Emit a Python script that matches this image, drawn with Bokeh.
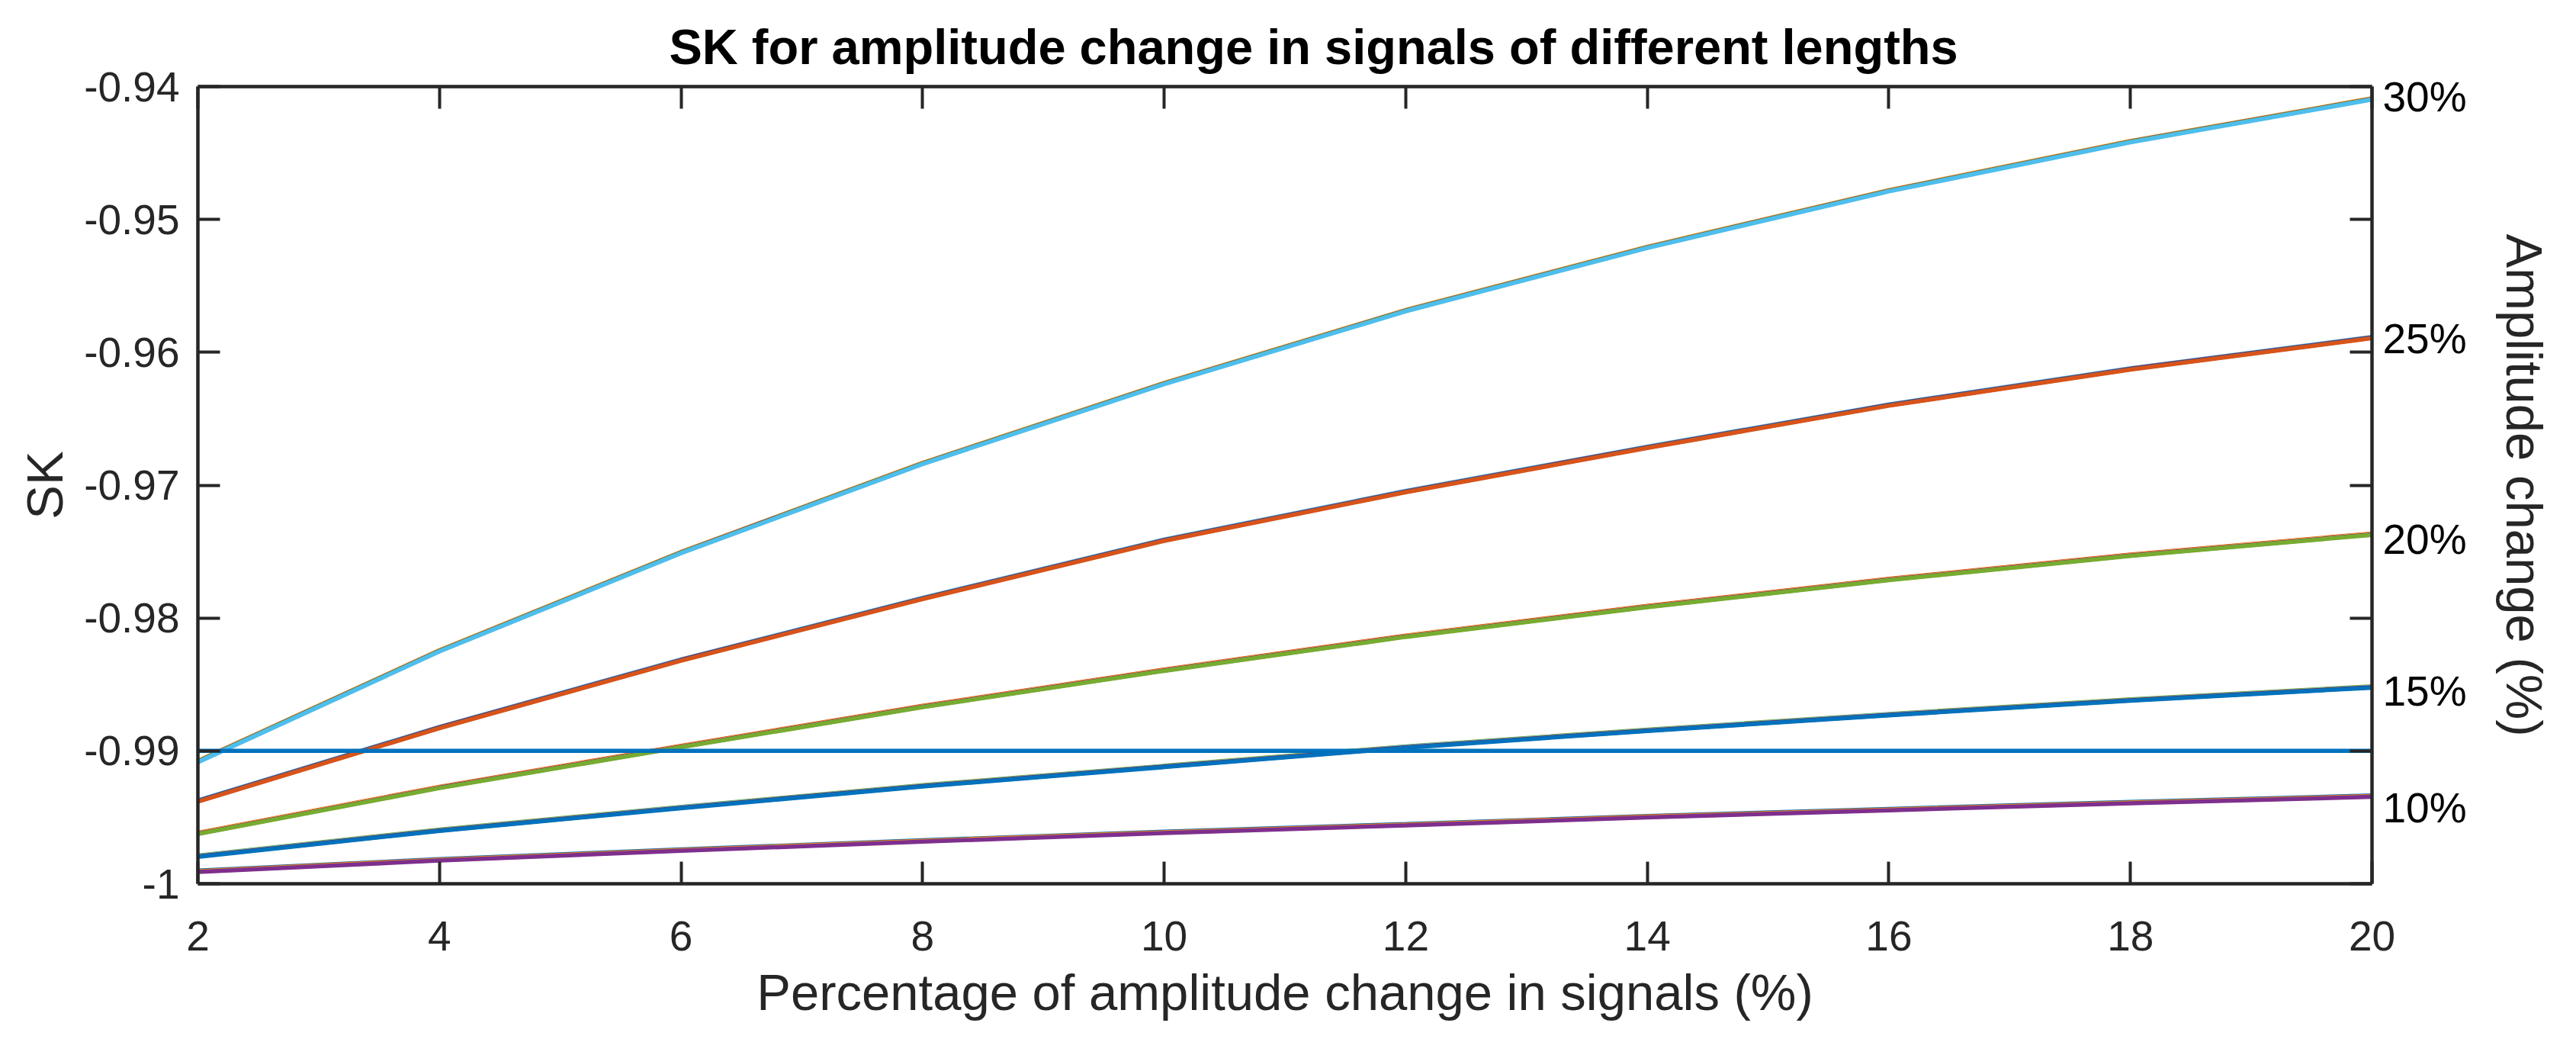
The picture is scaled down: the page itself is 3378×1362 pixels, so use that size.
from bokeh.plotting import figure
from bokeh.models import LinearAxis, FixedTicker, Range1d, Title
from bokeh.embed import file_html
from bokeh.resources import INLINE

# ---------------- data ----------------
pct = [2, 4, 6, 8, 10, 12, 14, 16, 18, 20]

# four overlapping curves per amplitude level (different signal lengths)
sk_10_a = [-0.99901, -0.99815, -0.99742, -0.99673, -0.99608, -0.99551, -0.99490, -0.99437, -0.99384, -0.99336]
sk_10_b = [-0.99905, -0.99819, -0.99746, -0.99677, -0.99612, -0.99555, -0.99494, -0.99441, -0.99388, -0.99340]
sk_10_c = [-0.99908, -0.99822, -0.99749, -0.99680, -0.99615, -0.99558, -0.99497, -0.99444, -0.99391, -0.99343]
sk_10_d = [-0.99911, -0.99825, -0.99752, -0.99683, -0.99618, -0.99561, -0.99500, -0.99447, -0.99394, -0.99346]

sk_15_a = [-0.99787, -0.99592, -0.99421, -0.99258, -0.99112, -0.98966, -0.98840, -0.98722, -0.98612, -0.98514]
sk_15_b = [-0.99791, -0.99596, -0.99425, -0.99262, -0.99116, -0.98970, -0.98844, -0.98726, -0.98616, -0.98518]
sk_15_c = [-0.99794, -0.99599, -0.99428, -0.99265, -0.99119, -0.98973, -0.98847, -0.98729, -0.98619, -0.98521]
sk_15_d = [-0.99797, -0.99602, -0.99431, -0.99268, -0.99122, -0.98976, -0.98850, -0.98732, -0.98622, -0.98524]

sk_20_a = [-0.99616, -0.99270, -0.98962, -0.98661, -0.98388, -0.98132, -0.97909, -0.97705, -0.97523, -0.97364]
sk_20_b = [-0.99620, -0.99274, -0.98966, -0.98665, -0.98392, -0.98136, -0.97913, -0.97709, -0.97527, -0.97368]
sk_20_c = [-0.99623, -0.99277, -0.98969, -0.98668, -0.98395, -0.98139, -0.97916, -0.97712, -0.97530, -0.97371]
sk_20_d = [-0.99626, -0.99280, -0.98972, -0.98671, -0.98398, -0.98142, -0.97919, -0.97715, -0.97533, -0.97374]

sk_25_a = [-0.99372, -0.98819, -0.98311, -0.97848, -0.97409, -0.97043, -0.96710, -0.96392, -0.96120, -0.95884]
sk_25_b = [-0.99376, -0.98823, -0.98315, -0.97852, -0.97413, -0.97047, -0.96714, -0.96396, -0.96124, -0.95888]
sk_25_c = [-0.99379, -0.98826, -0.98318, -0.97855, -0.97416, -0.97050, -0.96717, -0.96399, -0.96127, -0.95891]
sk_25_d = [-0.99382, -0.98829, -0.98321, -0.97858, -0.97419, -0.97053, -0.96720, -0.96402, -0.96130, -0.95894]

sk_30_a = [-0.99075, -0.98242, -0.97502, -0.96831, -0.96230, -0.95681, -0.95205, -0.94779, -0.94409, -0.94088]
sk_30_b = [-0.99079, -0.98246, -0.97506, -0.96835, -0.96234, -0.95685, -0.95209, -0.94783, -0.94413, -0.94092]
sk_30_c = [-0.99082, -0.98249, -0.97509, -0.96838, -0.96237, -0.95688, -0.95212, -0.94786, -0.94416, -0.94095]
sk_30_d = [-0.99085, -0.98252, -0.97512, -0.96841, -0.96240, -0.95691, -0.95215, -0.94789, -0.94419, -0.94098]

threshold_x = [2, 20]
threshold_y = [-0.99, -0.99]

xtick_values = [2, 4, 6, 8, 10, 12, 14, 16, 18, 20]
ytick_values = [-1.0, -0.99, -0.98, -0.97, -0.96, -0.95, -0.94]
ytick_labels = ["-1", "-0.99", "-0.98", "-0.97", "-0.96", "-0.95", "-0.94"]

amp_label_pos = [-0.99426, -0.98553, -0.97405, -0.95895, -0.94075]
amp_labels = ["10%", "15%", "20%", "25%", "30%"]

# ---------------- style ----------------
C = ["#0072BD", "#D95319", "#EDB120", "#7E2F8E", "#77AC30", "#4DBEEE", "#A2142F"]
FONT = "Liberation Sans"
AX = "#262626"
TICK_FS = "55px"
LABEL_FS = "67px"

series = [sk_10_a, sk_10_b, sk_10_c, sk_10_d,
          sk_15_a, sk_15_b, sk_15_c, sk_15_d,
          sk_20_a, sk_20_b, sk_20_c, sk_20_d,
          sk_25_a, sk_25_b, sk_25_c, sk_25_d,
          sk_30_a, sk_30_b, sk_30_c, sk_30_d]

p = figure(frame_width=2851, frame_height=1045,
           x_range=Range1d(2, 20), y_range=Range1d(-1.0, -0.94),
           output_backend="svg", toolbar_location=None,
           min_border_left=259, min_border_right=252,
           min_border_top=113, min_border_bottom=188,
           background_fill_color="white", border_fill_color="white")
p.outline_line_color = None
p.xgrid.visible = False
p.ygrid.visible = False

for i, s in enumerate(series):
    p.line(pct, s, line_color=C[i % 7], line_width=5.5)
p.line(threshold_x, threshold_y, line_color=C[0], line_width=5.5)

def style_axis(ax):
    ax.axis_line_color = AX
    ax.axis_line_width = 4.5
    ax.major_tick_line_color = AX
    ax.major_tick_line_width = 4
    ax.major_tick_in = 29
    ax.major_tick_out = 0
    ax.minor_tick_line_color = None
    ax.major_label_text_font = FONT
    ax.major_label_text_font_size = TICK_FS
    ax.major_label_text_color = AX
    ax.axis_label_text_font = FONT
    ax.axis_label_text_font_size = LABEL_FS
    ax.axis_label_text_color = AX
    ax.axis_label_text_font_style = "normal"

# bottom x axis
xa = p.xaxis[0]
style_axis(xa)
xa.ticker = FixedTicker(ticks=xtick_values)
xa.axis_label = "Percentage of amplitude change in signals (%)"
xa.major_label_standoff = 49
xa.axis_label_standoff = 14

# left y axis
ya = p.yaxis[0]
style_axis(ya)
ya.ticker = FixedTicker(ticks=ytick_values)
ya.major_label_overrides = dict(zip(ytick_values, ytick_labels))
ya.axis_label = "SK"
ya.major_label_standoff = 24
ya.axis_label_standoff = 11

# top axis (ticks only, no labels drawn)
top = LinearAxis(ticker=FixedTicker(ticks=xtick_values))
style_axis(top)
top.major_label_text_font_size = "1px"
top.major_label_text_color = None
top.major_label_standoff = 0
p.add_layout(top, "above")

# right axis: amplitude labels + mirrored y ticks (as minor ticks)
right = LinearAxis(ticker=FixedTicker(ticks=amp_label_pos, minor_ticks=ytick_values))
style_axis(right)
right.major_tick_in = 0
right.major_tick_out = 0
right.minor_tick_line_color = AX
right.minor_tick_line_width = 4
right.minor_tick_in = 29
right.minor_tick_out = 0
right.major_label_overrides = dict(zip(amp_label_pos, amp_labels))
right.major_label_text_color = "black"
right.major_label_text_font_size = TICK_FS
right.major_label_standoff = 14
right.axis_label = "Amplitude change (%)"
right.axis_label_standoff = 35
p.add_layout(right, "right")

p.title = Title(text="SK for amplitude change in signals of different lengths",
                align="left", text_font=FONT, text_font_size="65px",
                text_font_style="bold", text_color="black", standoff=31,
                offset=618)

open("out.html", "w").write(file_html(p, INLINE))
